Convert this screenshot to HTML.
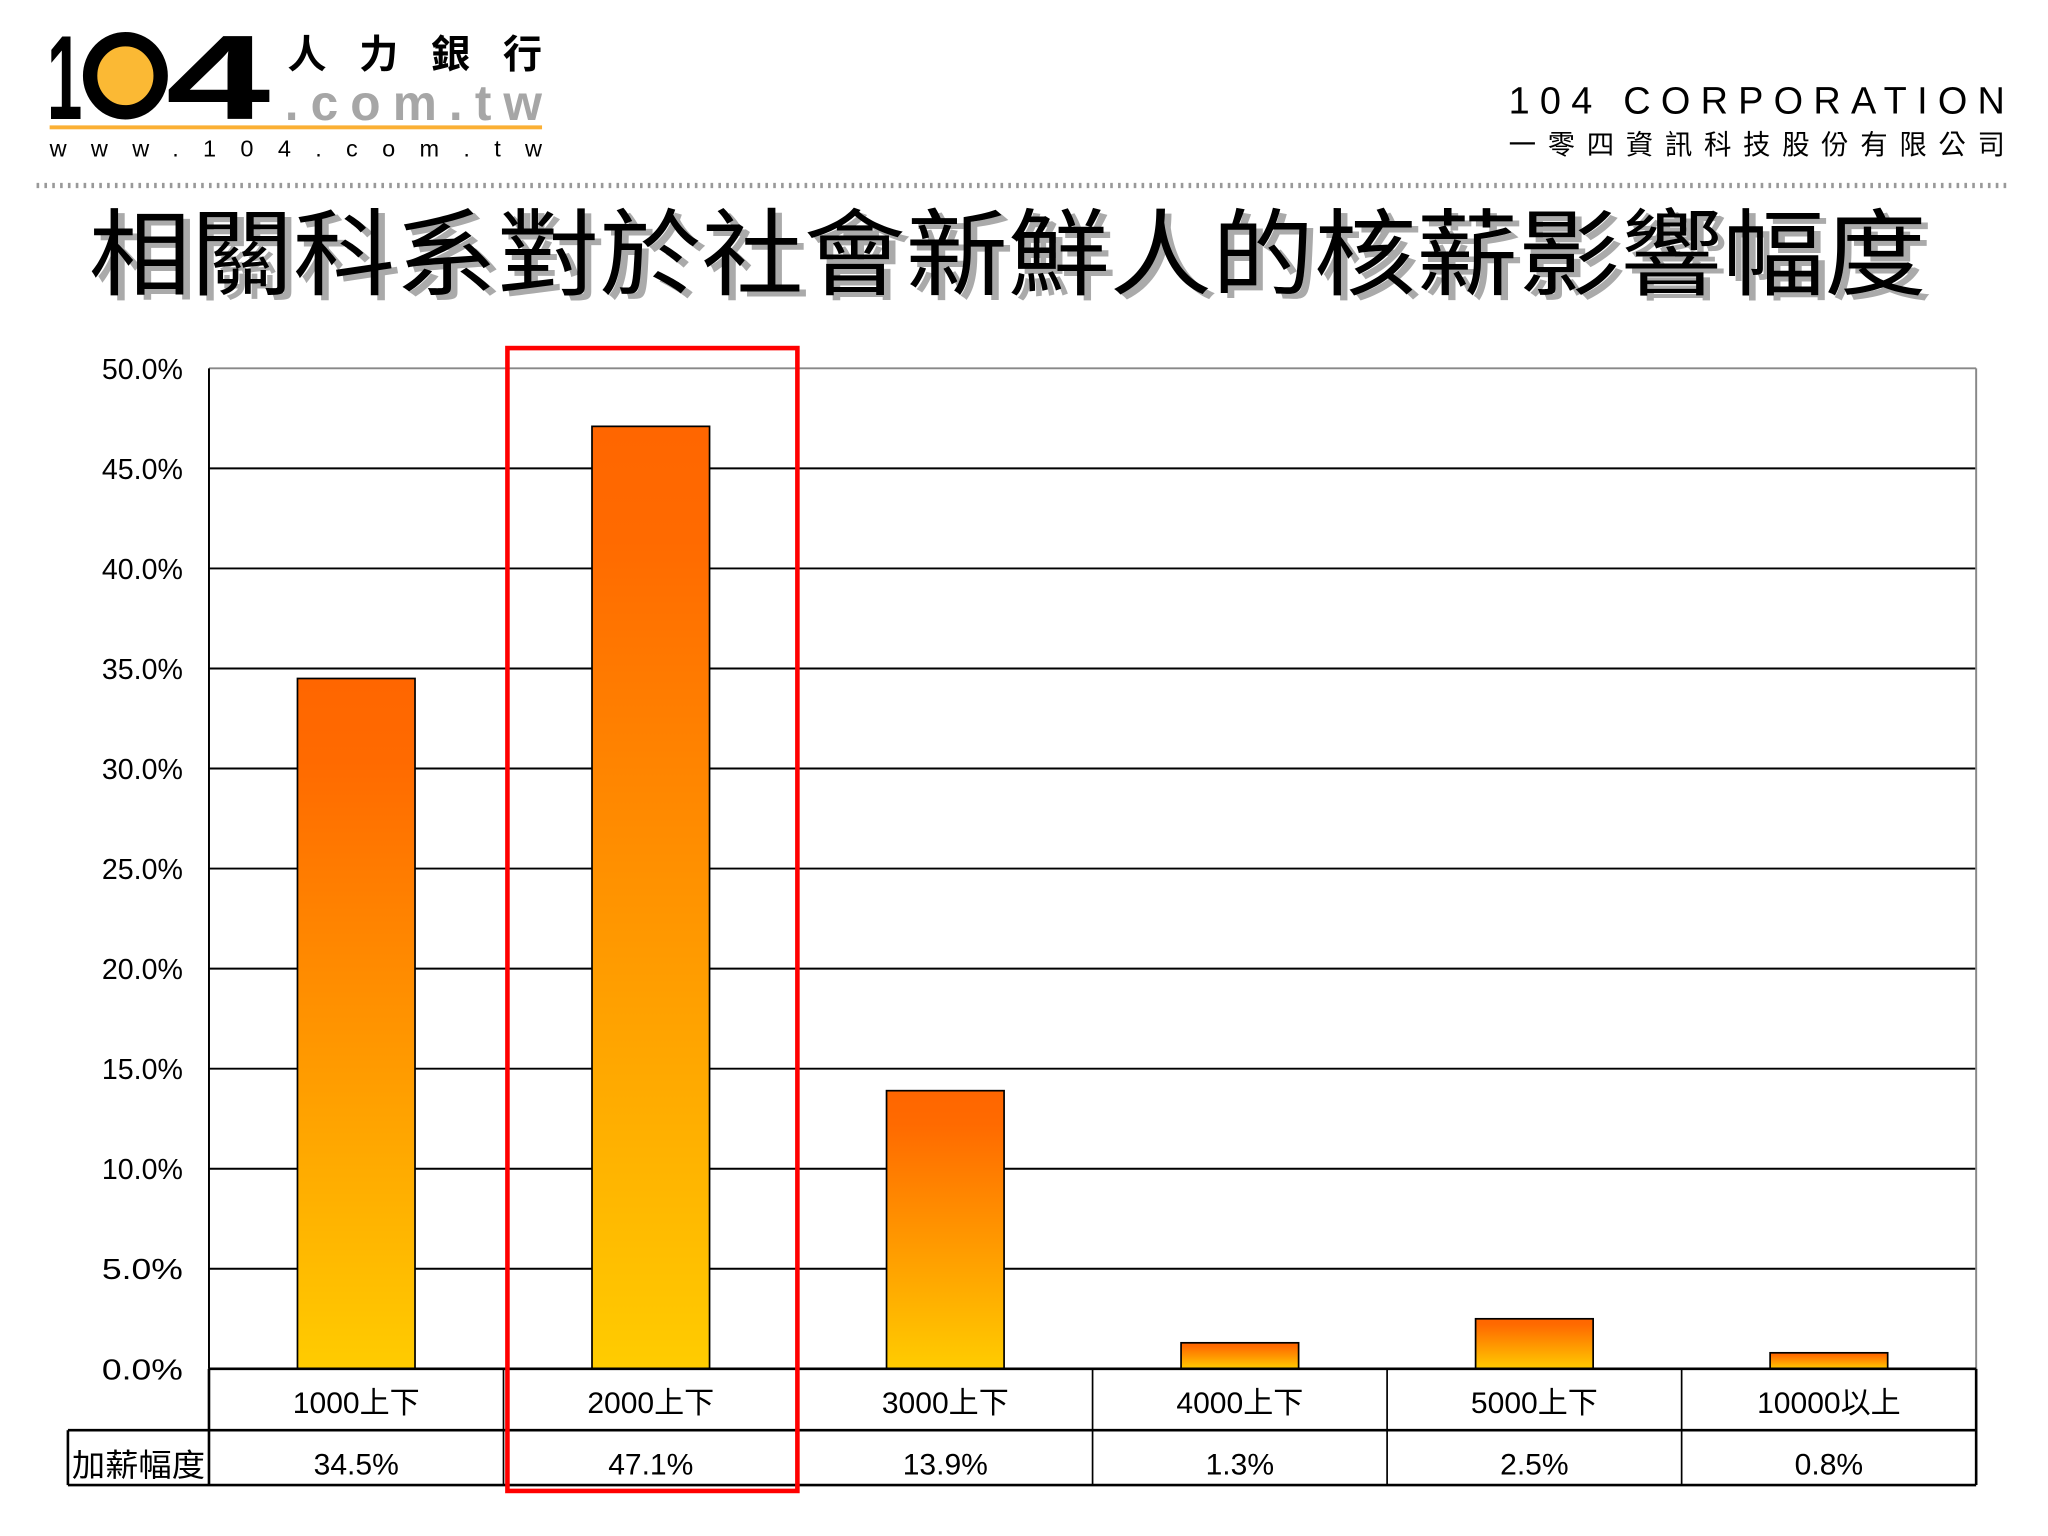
<!DOCTYPE html>
<html><head><meta charset="utf-8"><style>
html,body{margin:0;padding:0;background:#fff;}
svg{display:block;}
text{font-family:"Liberation Sans","Noto Sans CJK TC",sans-serif;}
</style></head><body>
<svg id="chart" width="2048" height="1536" viewBox="0 0 1568 1176" xmlns="http://www.w3.org/2000/svg">
<defs>
<linearGradient id="barGrad" x1="0" y1="0" x2="0" y2="1">
<stop offset="0" stop-color="#ff6600"/><stop offset="0.12" stop-color="#ff6a00"/><stop offset="0.55" stop-color="#ff9900"/><stop offset="1" stop-color="#ffcc00"/>
</linearGradient>
</defs>
<g>
<text x="36" y="91" font-size="92" font-weight="bold" fill="#000" textLength="27" lengthAdjust="spacingAndGlyphs">1</text>
<ellipse cx="96" cy="58" rx="27" ry="28" fill="#fbb934" stroke="#000" stroke-width="11"/>
<text x="127" y="91" font-size="92" font-weight="bold" fill="#000" textLength="80" lengthAdjust="spacingAndGlyphs">4</text>
<text x="220" y="52" font-size="30" font-weight="bold" textLength="195" lengthAdjust="spacing">人力銀行</text>
<text x="218" y="92" font-size="38" font-weight="bold" fill="#a6a6a6" textLength="197" lengthAdjust="spacing">.com.tw</text>
<rect x="38" y="96" width="377" height="3" fill="#fbb034"/>
<text x="38" y="120" font-size="18" textLength="377" lengthAdjust="spacing">www.104.com.tw</text>
</g>
<g>
<text x="1155" y="87" font-size="29" textLength="380" lengthAdjust="spacing">104  CORPORATION</text>
<text x="1155" y="118" font-size="21" textLength="380" lengthAdjust="spacing">一零四資訊科技股份有限公司</text>
</g>
<line x1="28" y1="142" x2="1538" y2="142" stroke="#999" stroke-width="4" stroke-dasharray="2 4"/>
<g>
<text x="73" y="224" font-size="72" fill="#aaa" textLength="1407" lengthAdjust="spacingAndGlyphs">相關科系對於社會新鮮人的核薪影響幅度</text>
<text x="68" y="220" font-size="72" fill="#000" textLength="1407" lengthAdjust="spacingAndGlyphs">相關科系對於社會新鮮人的核薪影響幅度</text>
</g>
<g id="grid"></g>
<g id="ylabels"></g>
<g id="bars"></g>
<g id="table"></g>
<rect x="388.5" y="266.5" width="222" height="875" fill="none" stroke="#ff0000" stroke-width="3.5"/>
</svg>
<script>
const categories = ["1000上下","2000上下","3000上下","4000上下","5000上下","10000以上"];
const values = [34.5, 47.1, 13.9, 1.3, 2.5, 0.8];
const valueLabels = ["34.5%","47.1%","13.9%","1.3%","2.5%","0.8%"];
const yTicks = [0,5,10,15,20,25,30,35,40,45,50];
const rowLabel = "加薪幅度";

const NS="http://www.w3.org/2000/svg";
const L=160,R=1513,T=282,B=1048,yMax=50;
const y=v=>B-(v/yMax)*(B-T);
const cw=(R-L)/categories.length;
const x=i=>L+i*cw;
function mk(tag,attrs,parent){const e=document.createElementNS(NS,tag);for(const k in attrs)e.setAttribute(k,attrs[k]);parent.appendChild(e);return e;}
const grid=document.getElementById('grid'),yl=document.getElementById('ylabels'),bars=document.getElementById('bars'),tbl=document.getElementById('table');
yTicks.forEach(t=>{
  const ln=mk('line',{x1:L,x2:R,y1:y(t),y2:y(t),stroke:t===yMax?'#888':'#000','stroke-width':1.5},grid);
  
  
  const tx=mk('text',{x:140,y:y(t)+8,'font-size':22,'text-anchor':'end',textLength:62,lengthAdjust:'spacingAndGlyphs'},yl);
  tx.textContent=t.toFixed(1)+'%';
  
  
});
const ax=mk('line',{x1:L,x2:L,y1:T,y2:B,stroke:'#000','stroke-width':1.5},grid);


const rb=mk('line',{x1:R,x2:R,y1:T,y2:B,stroke:'#888','stroke-width':1.5},grid);


const bw=90;
values.forEach((v,i)=>{
  const r=mk('rect',{x:x(i)+cw/2-bw/2,y:y(v),width:bw,height:B-y(v),fill:'url(#barGrad)',stroke:'#000','stroke-width':1.3},bars);
  
  
});
const r1=1095,r2=1137;
[[L,B,R,B],[52,r1,R,r1],[52,r2,R,r2],[52,r1,52,r2],[L,B,L,r2],[R,B,R,r2]].forEach(c=>{
  const l=mk('line',{x1:c[0],y1:c[1],x2:c[2],y2:c[3],stroke:'#000','stroke-width':2},tbl);
  
  
});
categories.forEach((c,i)=>{
  if(i>0){const l=mk('line',{x1:x(i),x2:x(i),y1:B,y2:r2,stroke:'#000','stroke-width':1.3},tbl);
  
  }
  const t=mk('text',{x:x(i)+cw/2,y:1082,'font-size':23,'text-anchor':'middle'},tbl);
  t.textContent=c;
  
  
  const t2=mk('text',{x:x(i)+cw/2,y:1129,'font-size':23,'text-anchor':'middle'},tbl);
  t2.textContent=valueLabels[i];
  
  
});
const rl=mk('text',{x:55,y:1130,'font-size':24,textLength:102,lengthAdjust:'spacingAndGlyphs'},tbl);
rl.textContent=rowLabel;


</script>
</body></html>
